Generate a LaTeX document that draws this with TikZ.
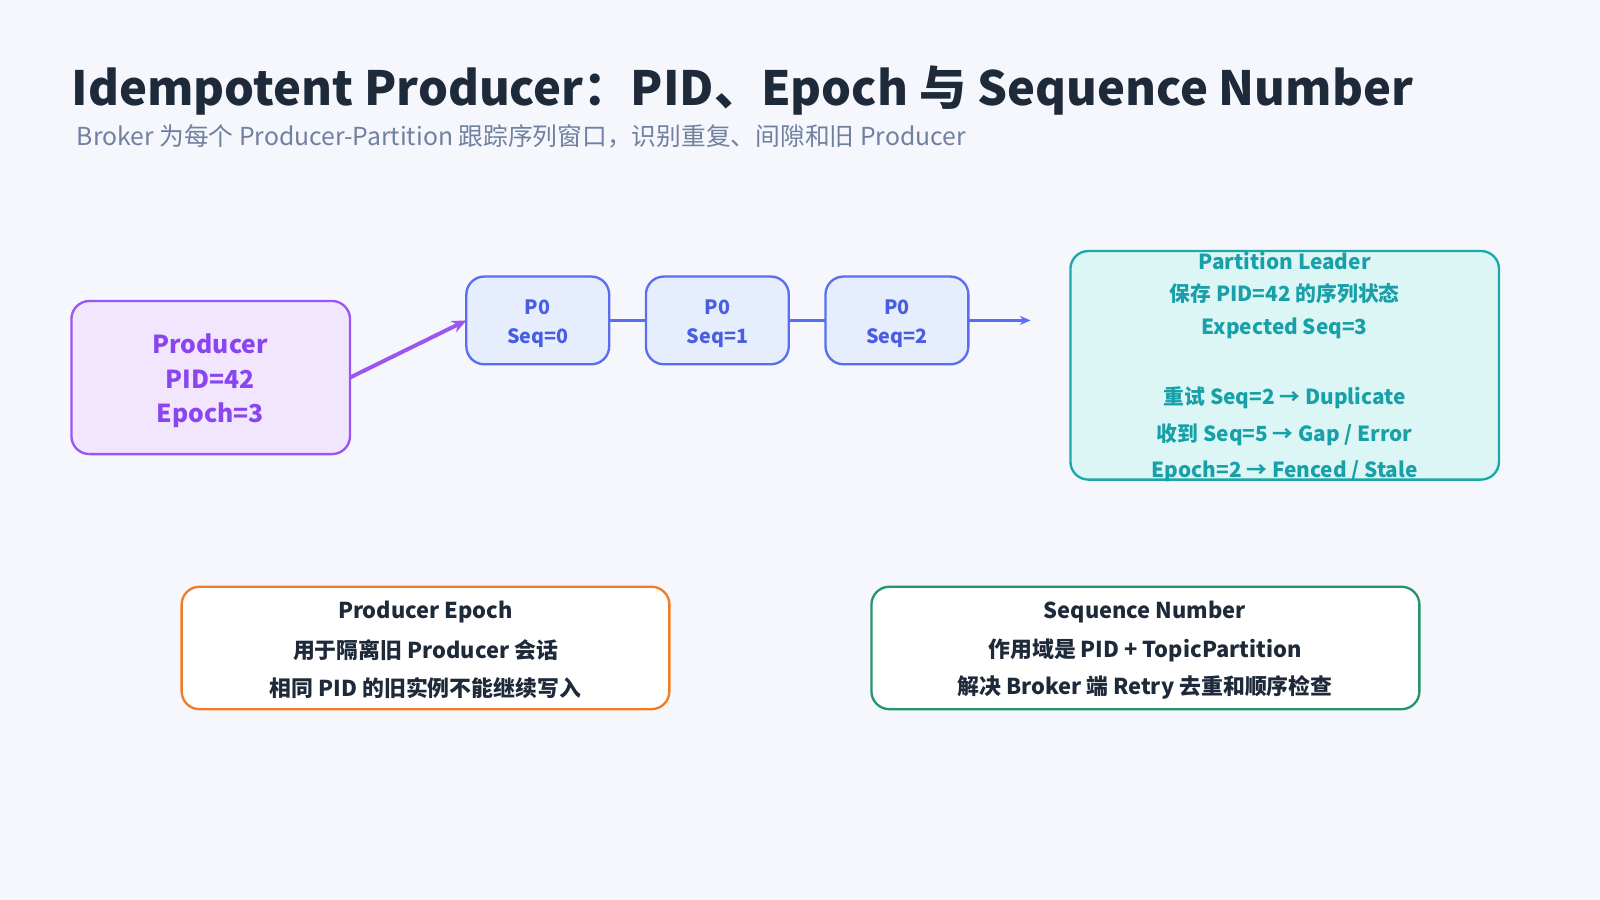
\documentclass[tikz,border=0pt]{standalone}
\usepackage{fontspec}
\setmainfont{Noto Sans CJK SC}
\usetikzlibrary{arrows.meta}
\definecolor{bg}{HTML}{F5F7FC}
\definecolor{pur}{HTML}{9B55F0}
\definecolor{purt}{HTML}{8A45F0}
\definecolor{purf}{HTML}{F1E6FD}
\definecolor{blu}{HTML}{5A6EF0}
\definecolor{blut}{HTML}{4A5EE0}
\definecolor{bluf}{HTML}{E6EDFD}
\definecolor{tea}{HTML}{1AA8A8}
\definecolor{teat}{HTML}{17A0A8}
\definecolor{teaf}{HTML}{DCF6F6}
\definecolor{ora}{HTML}{F07C28}
\definecolor{grn}{HTML}{23966A}
\definecolor{dark}{HTML}{1E2A3A}
\definecolor{sub}{HTML}{7080A0}
\tikzset{
 box/.style={draw,line width=1.3pt,rounded corners=10pt,inner sep=0pt},
 t/.style={font=\bfseries\fontsize{11pt}{13pt}\selectfont,anchor=center},
 tl/.style={font=\bfseries\fontsize{11.6pt}{13pt}\selectfont,anchor=center},
 tb/.style={font=\bfseries\fontsize{12.2pt}{14pt}\selectfont,anchor=center},
}
\begin{document}
\begin{tikzpicture}[x=0.02cm,y=-0.02cm]
\fill[bg] (0,0) rectangle (1568,882);
\useasboundingbox (0,0) rectangle (1568,882);
\node[anchor=base west,inner sep=0,text=dark,font=\bfseries\fontsize{26.3pt}{30pt}\selectfont] (title) at (70,103) {Idempotent Producer：PID、Epoch 与 Sequence Number};
\node[anchor=west,inner sep=0,text=sub,font=\fontsize{13.8pt}{15pt}\selectfont] (subt) at (75,134) {Broker 为每个 Producer-Partition 跟踪序列窗口，识别重复、间隙和旧 Producer};
% producer
\draw[box,pur,fill=purf] (70,295) rectangle (343,445);
\node[t,text=purt,font=\bfseries\fontsize{13.8pt}{15pt}\selectfont] (prod) at (206,337) {Producer};
\node[t,text=purt,font=\bfseries\fontsize{13.8pt}{15pt}\selectfont] at (206,372) {PID=42};
\node[t,text=purt,font=\bfseries\fontsize{13.8pt}{15pt}\selectfont] at (206,407) {Epoch=3};
\coordinate (pout) at (343,370);
% P0 boxes
\foreach \i/\x in {0/457,1/633,2/809}{
 \draw[box,blu,fill=bluf] (\x,271) rectangle ++(140,86);
 \node[t,text=blut] at (\x+70,301) {P0};
 \node[t,text=blut] at (\x+70,331) {Seq=\i};
 \coordinate (L\i) at (\x,314);
 \coordinate (R\i) at (\x+140,314);
}
\coordinate (aend) at (1010,314);
\draw[pur,line width=2.2pt,-{Stealth[length=8pt,width=7pt]}] (pout) -- (L0);
\draw[blu,line width=1.3pt] (R0) -- (L1) (R1) -- (L2);
\draw[blu,line width=1.3pt,-{Stealth[length=6pt,width=5pt]}] (R2) -- (aend);
% leader
\draw[box,tea,fill=teaf] (1049,246) rectangle (1469,470);
\node[tl,text=teat] at (1259,256) {Partition Leader};
\node[tl,text=teat] at (1259,288) {保存 PID=42 的序列状态};
\node[tl,text=teat] at (1259,322) {Expected Seq=3};
\node[tl,text=teat] at (1259,390) {重试 Seq=2 → Duplicate};
\node[tl,text=teat] at (1259,426) {收到 Seq=5 → Gap / Error};
\node[tl,text=teat] at (1259,462) {Epoch=2 → Fenced / Stale};
% bottom boxes
\draw[box,ora,fill=white] (178,575) rectangle (656,695);
\node[tb,text=dark] at (417,600) {Producer Epoch};
\node[tb,text=dark] at (417,637) {用于隔离旧 Producer 会话};
\node[tb,text=dark] at (417,674) {相同 PID 的旧实例不能继续写入};
\draw[box,grn,fill=white] (854,575) rectangle (1391,695);
\node[tb,text=dark] at (1122,600) {Sequence Number};
\node[tb,text=dark] at (1122,637) {作用域是 PID + TopicPartition};
\node[tb,text=dark] at (1122,674) {解决 Broker 端 Retry 去重和顺序检查};
\end{tikzpicture}
\end{document}
